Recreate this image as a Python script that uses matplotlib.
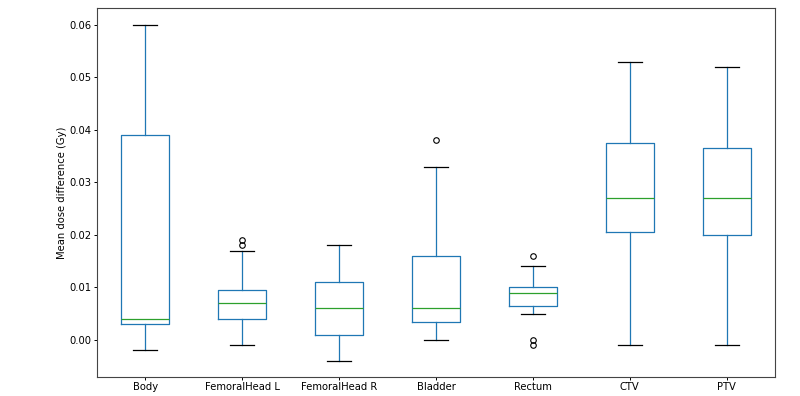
import matplotlib
matplotlib.use('Agg')
import matplotlib.pyplot as plt

# Box statistics
structures = ['Body', 'FemoralHead L', 'FemoralHead R', 'Bladder', 'Rectum', 'CTV', 'PTV']
whis_lo = [-0.002, -0.001, -0.004, 0.000, 0.005, -0.001, -0.001]
q1 = [0.003, 0.004, 0.001, 0.0035, 0.0065, 0.0205, 0.020]
median = [0.004, 0.007, 0.006, 0.006, 0.009, 0.027, 0.027]
q3 = [0.039, 0.0095, 0.011, 0.016, 0.010, 0.0375, 0.0365]
whis_hi = [0.060, 0.017, 0.018, 0.033, 0.014, 0.053, 0.052]
outliers = [[], [0.018, 0.019], [], [0.038], [0.016, 0.0, -0.001], [], []]
y_ticks = [0.0, 0.01, 0.02, 0.03, 0.04, 0.05, 0.06]


def build_stats():
    stats = []
    for i, name in enumerate(structures):
        stats.append({
            'label': name,
            'whislo': whis_lo[i],
            'q1': q1[i],
            'med': median[i],
            'q3': q3[i],
            'whishi': whis_hi[i],
            'fliers': outliers[i],
        })
    return stats


def main():
    fig = plt.figure(figsize=(8, 3.96), dpi=100)
    ax = fig.add_axes([0.121, 0.048, 0.848, 0.932])

    blue = '#1f77b4'
    lw = 0.9
    ax.bxp(
        build_stats(),
        widths=0.5,
        boxprops=dict(color=blue, linewidth=lw),
        whiskerprops=dict(color=blue, linewidth=lw),
        medianprops=dict(color='#2ca02c', linewidth=lw),
        capprops=dict(color='k', linewidth=lw),
        flierprops=dict(marker='o', markerfacecolor='none', markeredgecolor='k',
                        markersize=4, markeredgewidth=0.8),
    )

    ax.set_ylim(-0.00705, 0.0632)
    ax.set_yticks(y_ticks)
    ax.set_yticklabels([f'{v:.2f}' for v in y_ticks])
    ax.tick_params(axis='both', length=2.5, width=0.7, pad=1.3, labelsize=7.2)
    ax.set_ylabel('Mean dose difference (Gy)', fontsize=7.2, labelpad=2)
    for spine in ax.spines.values():
        spine.set_color('#444444')
        spine.set_linewidth(0.8)

    fig.savefig('out.png', dpi=100)


if __name__ == '__main__':
    main()
